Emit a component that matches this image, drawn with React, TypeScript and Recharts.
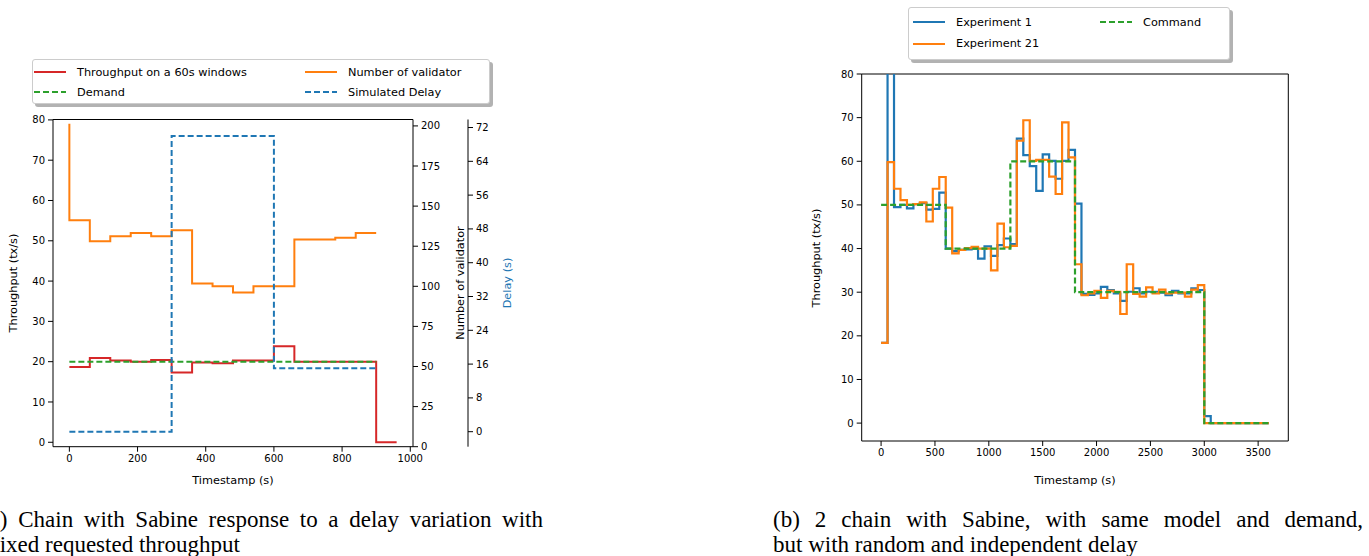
import { LineChart, Line, XAxis, YAxis, ReferenceLine } from "recharts";

// (a) one chain, fixed demand, delay variation
const thrTimes = [0, 60, 120, 180, 240, 300, 360, 420, 480, 540, 600, 660, 720, 780, 840, 900, 960];
const thrValues = [18.7, 20.9, 20.3, 20.0, 20.4, 17.3, 19.8, 19.6, 20.3, 20.3, 23.8, 20.0, 20.0, 20.0, 20.0, 0, 0];
const demandTimes = [0, 900];
const demandValues = [20, 20];
const validatorTimes = [0, 60, 120, 180, 240, 300, 360, 420, 480, 540, 600, 660, 720, 780, 840, 900];
const validatorValues = [201.4, 141.2, 128.1, 131.2, 133.3, 131.2, 135.0, 101.7, 100.1, 96.1, 100.1, 100.1, 129.2, 129.2, 130.2, 133.3];
const delayTimes = [0, 300, 600, 900];
const delayValues = [0, 70, 15, 15];

const aTicksX = [0, 200, 400, 600, 800, 1000];
const aTicksThr = [0, 10, 20, 30, 40, 50, 60, 70, 80];
const aTicksVal = [0, 25, 50, 75, 100, 125, 150, 175, 200];
const aTicksDelay = [0, 8, 16, 24, 32, 40, 48, 56, 64, 72];

// (b) two chains, same command, random delay
const stepTimes = [
  0, 60, 120, 180, 240, 300, 360, 420, 480, 540, 600, 660, 720, 780, 840, 900, 960, 1020, 1080, 1140,
  1200, 1260, 1320, 1380, 1440, 1500, 1560, 1620, 1680, 1740, 1800, 1860, 1920, 1980, 2040, 2100, 2160,
  2220, 2280, 2340, 2400, 2460, 2520, 2580, 2640, 2700, 2760, 2820, 2880, 2940, 3000, 3060, 3120, 3180,
  3240, 3300, 3360, 3420, 3480, 3540, 3600,
];
const exp1Values = [
  18.4, 95, 49.5, 50.0, 49.2, 50.2, 50.4, 48.9, 49.1, 52.8, 40.0, 39.4, 39.7, 39.8, 40.0, 37.7, 40.5, 38.3, 40.8, 42.3,
  41.0, 65.2, 61.4, 58.9, 53.2, 61.6, 60.1, 56.0, 60.1, 62.6, 50.3, 29.6, 29.4, 29.7, 31.2, 30.5, 29.7,
  28.0, 30.1, 30.9, 29.7, 30.1, 30.1, 29.9, 29.3, 30.3, 29.7, 29.7, 30.9, 30.5, 1.6, 0, 0, 0,
  0, 0, 0, 0, 0, 0, 0,
];
const exp21Values = [
  18.4, 59.8, 53.7, 51.1, 50.0, 50.2, 50.6, 46.2, 53.7, 56.4, 49.4, 38.9, 39.7, 40.1, 40.4, 40.0, 40.0, 35.0, 45.7, 40.3,
  40.6, 64.7, 69.4, 60.1, 60.3, 60.3, 56.5, 52.5, 68.9, 60.9, 36.4, 29.3, 29.7, 30.3, 28.7, 30.3, 30.1,
  25.0, 36.4, 29.6, 29.0, 31.1, 29.7, 30.6, 29.7, 29.9, 29.9, 29.0, 30.6, 31.6, 0, 0, 0, 0,
  0, 0, 0, 0, 0, 0, 0,
];
const commandTimes = [0, 600, 1200, 1800, 3000, 3600];
const commandValues = [50, 40, 60, 30, 0, 0];

const bTicksX = [0, 500, 1000, 1500, 2000, 2500, 3000, 3500];
const bTicksY = [0, 10, 20, 30, 40, 50, 60, 70, 80];

const BLUE = "#1f77b4";
const ORANGE = "#ff7f0e";
const GREEN = "#2ca02c";
const RED = "#d62728";
const SANS = '"DejaVu Sans", sans-serif';
const SERIF = '"Liberation Serif", "DejaVu Serif", serif';

const zip = (ts: number[], vs: number[]) => ts.map((t, i) => ({ t, v: vs[i] }));

const tickStyle = { fontSize: 10, fill: "#000", fontFamily: SANS };
const axisLine = { stroke: "#000", strokeWidth: 1 };
const tickLine = { stroke: "#000", strokeWidth: 1 };
const labelStyle = { fontSize: 11.3, fill: "#000", fontFamily: SANS };

function LegendItem({ x, y, color, dashed, label }: { x: number; y: number; color: string; dashed?: boolean; label: string }) {
  return (
    <div style={{ position: "absolute", left: x, top: y - 8, height: 16, display: "flex", alignItems: "center", whiteSpace: "nowrap" }}>
      <svg width={32} height={16} style={{ display: "block" }}>
        <line x1={0} y1={8} x2={32} y2={8} stroke={color} strokeWidth={2} strokeDasharray={dashed ? "6 3" : undefined} />
      </svg>
      <span style={{ marginLeft: 11, fontSize: 11.3, fontFamily: SANS, color: "#000" }}>{label}</span>
    </div>
  );
}

function LegendBox({ left, top, width, height, children }: any) {
  return (
    <div
      style={{
        position: "absolute",
        left,
        top,
        width,
        height,
        boxSizing: "border-box",
        border: "1px solid #cccccc",
        borderRadius: 3,
        background: "#fff",
        boxShadow: "3px 3px 0 rgba(0,0,0,0.3)",
      }}
    >
      {children}
    </div>
  );
}

function VTitle({ x, y, text, color = "#000" }: { x: number; y: number; text: string; color?: string }) {
  return (
    <div
      style={{
        position: "absolute",
        left: x,
        top: y,
        transform: "translate(-50%, -50%) rotate(-90deg)",
        fontFamily: SANS,
        fontSize: 11.3,
        color,
        whiteSpace: "nowrap",
      }}
    >
      {text}
    </div>
  );
}

function PanelA() {
  return (
    <div style={{ position: "absolute", left: 0, top: 0 }}>
      <LineChart width={540} height={494} margin={{ top: 119.5, right: 16, bottom: 5, left: 13 }}>
        <XAxis
          dataKey="t"
          type="number"
          domain={[-48, 1008]}
          ticks={aTicksX}
          allowDataOverflow
          tick={tickStyle}
          tickSize={5}
          tickMargin={3}
          axisLine={axisLine}
          tickLine={tickLine}
          height={42.3}
          label={{ value: "Timestamp (s)", position: "insideBottom", offset: 5, style: labelStyle }}
        />
        <YAxis
          yAxisId="thr"
          type="number"
          domain={[-1.1, 80.1]}
          ticks={aTicksThr}
          allowDataOverflow
          width={40}
          tick={tickStyle}
          tickSize={5}
          tickMargin={3}
          axisLine={axisLine}
          tickLine={tickLine}
        />
        <YAxis
          yAxisId="b_delay"
          orientation="right"
          type="number"
          domain={[-3.55, 73.9]}
          ticks={aTicksDelay}
          allowDataOverflow
          width={56}
          tick={tickStyle}
          tickSize={5}
          tickMargin={3}
          axisLine={axisLine}
          tickLine={tickLine}
        />
        <YAxis
          yAxisId="a_val"
          orientation="right"
          type="number"
          domain={[0, 204]}
          ticks={aTicksVal}
          allowDataOverflow
          width={55}
          tick={tickStyle}
          tickSize={5}
          tickMargin={3}
          axisLine={axisLine}
          tickLine={tickLine}
        />
        <ReferenceLine yAxisId="thr" y={80.1} stroke="#000" strokeWidth={1} />
        <Line yAxisId="thr" data={zip(thrTimes, thrValues)} dataKey="v" type="stepAfter" stroke={RED} strokeWidth={2} dot={false} activeDot={false} isAnimationActive={false} />
        <Line yAxisId="thr" data={zip(demandTimes, demandValues)} dataKey="v" type="linear" stroke={GREEN} strokeWidth={2} strokeDasharray="6 3" dot={false} activeDot={false} isAnimationActive={false} />
        <Line yAxisId="a_val" data={zip(validatorTimes, validatorValues)} dataKey="v" type="stepBefore" stroke={ORANGE} strokeWidth={2} dot={false} activeDot={false} isAnimationActive={false} />
        <Line yAxisId="b_delay" data={zip(delayTimes, delayValues)} dataKey="v" type="stepAfter" stroke={BLUE} strokeWidth={2} strokeDasharray="6 3" dot={false} activeDot={false} isAnimationActive={false} />
      </LineChart>
      <VTitle x={13} y={283} text="Throughput (tx/s)" />
      <VTitle x={460} y={283} text="Number of validator" />
      <VTitle x={507} y={283} text="Delay (s)" color={BLUE} />
      <LegendBox left={32} top={59} width={458} height={45}>
        <LegendItem x={1} y={12} color={RED} label="Throughput on a 60s windows" />
        <LegendItem x={1} y={32} color={GREEN} dashed label="Demand" />
        <LegendItem x={272} y={12} color={ORANGE} label="Number of validator" />
        <LegendItem x={272} y={32} color={BLUE} dashed label="Simulated Delay" />
      </LegendBox>
    </div>
  );
}

function PanelB() {
  return (
    <div style={{ position: "absolute", left: 780, top: 0 }}>
      <LineChart width={520} height={494} margin={{ top: 74, right: 11.7, bottom: 5, left: 36.7 }}>
        <XAxis
          dataKey="t"
          type="number"
          domain={[-180, 3780]}
          ticks={bTicksX}
          allowDataOverflow
          tick={tickStyle}
          tickSize={5}
          tickMargin={3}
          axisLine={axisLine}
          tickLine={tickLine}
          height={48}
          label={{ value: "Timestamp (s)", position: "insideBottom", offset: 5, style: labelStyle }}
        />
        <YAxis
          type="number"
          domain={[-4.1, 80]}
          ticks={bTicksY}
          allowDataOverflow
          width={45}
          tick={tickStyle}
          tickSize={5}
          tickMargin={3}
          axisLine={axisLine}
          tickLine={tickLine}
        />
        <ReferenceLine y={80} stroke="#000" strokeWidth={1} />
        <ReferenceLine x={3780} stroke="#000" strokeWidth={1} />
        <Line data={zip(stepTimes, exp1Values)} dataKey="v" type="stepAfter" stroke={BLUE} strokeWidth={2.2} dot={false} activeDot={false} isAnimationActive={false} />
        <Line data={zip(stepTimes, exp21Values)} dataKey="v" type="stepAfter" stroke={ORANGE} strokeWidth={2.2} dot={false} activeDot={false} isAnimationActive={false} />
        <Line data={zip(commandTimes, commandValues)} dataKey="v" type="stepAfter" stroke={GREEN} strokeWidth={2.2} strokeDasharray="6 3" dot={false} activeDot={false} isAnimationActive={false} />
      </LineChart>
      <VTitle x={36} y={257.5} text="Throughput (tx/s)" />
      <LegendBox left={128} top={7} width={322} height={53}>
        <LegendItem x={4} y={14} color={BLUE} label="Experiment 1" />
        <LegendItem x={4} y={35.7} color={ORANGE} label="Experiment 21" />
        <LegendItem x={191} y={14} color={GREEN} dashed label="Command" />
      </LegendBox>
    </div>
  );
}

function Caption({ left, top, width, line1, line2, indent2 = 0 }: { left: number; top: number; width: number; line1: string; line2: string; indent2?: number }) {
  return (
    <div style={{ position: "absolute", left, top, width, fontFamily: SERIF, fontSize: 23, lineHeight: "25px", color: "#000" }}>
      <div style={{ whiteSpace: "nowrap", display: "flex", justifyContent: "space-between" }}>
        {line1.split(" ").map((w, i) => (
          <span key={i}>{w}</span>
        ))}
      </div>
      <div style={{ whiteSpace: "nowrap", paddingLeft: indent2 }}>{line2}</div>
    </div>
  );
}

export default function App() {
  return (
    <div style={{ position: "absolute", left: 0, top: 0, width: 1369, height: 556, overflow: "hidden", background: "#fff" }}>
      <PanelA />
      <PanelB />
      <Caption left={-18} top={507} width={561} indent2={10} line1="(a) Chain with Sabine response to a delay variation with" line2="fixed requested throughput" />
      <Caption left={773} top={507} width={590} line1="(b) 2 chain with Sabine, with same model and demand," line2="but with random and independent delay" />
    </div>
  );
}
